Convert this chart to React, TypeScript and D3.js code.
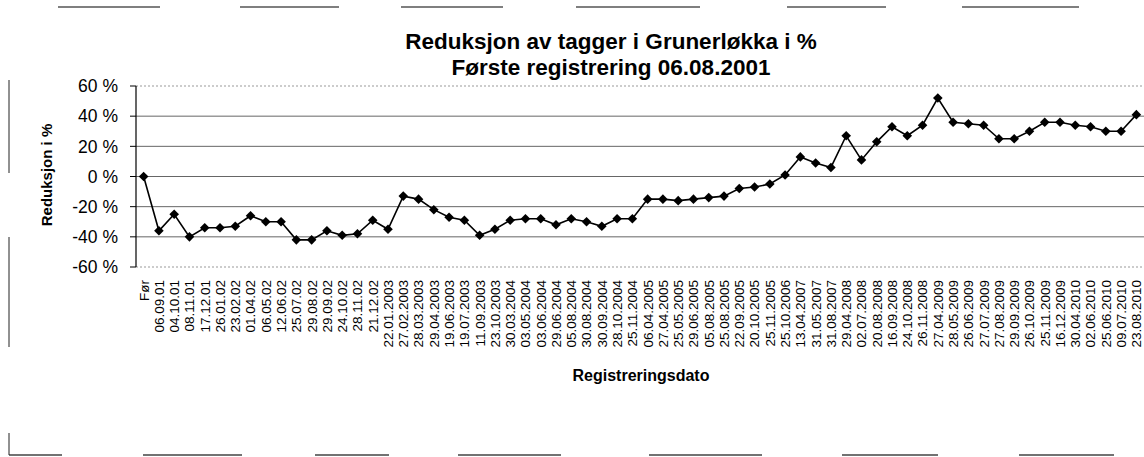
import * as d3 from 'd3'

const dates = [
  'Før', '06.09.01', '04.10.01', '08.11.01', '17.12.01', '26.01.02', '23.02.02', '01.04.02',
  '06.05.02', '12.06.02', '25.07.02', '29.08.02', '29.09.02', '24.10.02', '28.11.02', '21.12.02',
  '22.01.2003', '27.02.2003', '28.03.2003', '29.04.2003', '19.06.2003', '19.07.2003', '11.09.2003',
  '23.10.2003', '30.03.2004', '03.05.2004', '03.06.2004', '29.06.2004', '05.08.2004', '30.08.2004',
  '30.09.2004', '28.10.2004', '25.11.2004', '06.04.2005', '27.04.2005', '25.05.2005', '29.06.2005',
  '05.08.2005', '25.08.2005', '22.09.2005', '20.10.2005', '25.11.2005', '25.10.2006', '13.04.2007',
  '31.05.2007', '31.08.2007', '29.04.2008', '02.07.2008', '20.08.2008', '16.09.2008', '24.10.2008',
  '26.11.2008', '27.04.2009', '28.05.2009', '26.06.2009', '27.07.2009', '27.08.2009', '29.09.2009',
  '26.10.2009', '25.11.2009', '16.12.2009', '30.04.2010', '02.06.2010', '25.06.2010', '09.07.2010',
  '23.08.2010',
]

// reduksjon i %
const reduction = [
  0, -36, -25, -40, -34, -34, -33, -26, -30, -30, -42, -42, -36, -39, -38, -29,
  -35, -13, -15, -22, -27, -29, -39, -35, -29, -28, -28, -32, -28, -30, -33, -28,
  -28, -15, -15, -16, -15, -14, -13, -8, -7, -5, 1, 13, 9, 6, 27, 11,
  23, 33, 27, 34, 52, 36, 35, 34, 25, 25, 30, 36, 36, 34, 33, 30,
  30, 41,
]

const yTicks = [60, 40, 20, 0, -20, -40, -60]

const W = 1144
const H = 457
const FONT = '"Liberation Sans", Arial, sans-serif'

export default function App() {
  // plot area runs a little past the right edge of the picture (the scan is cropped)
  const x = d3.scalePoint<string>().domain(dates).range([136, 1144]).padding(0.5)
  const y = d3.scaleLinear().domain([-60, 60]).range([267, 86])

  const line = d3.line<number>()
    .x((_, i) => x(dates[i]) as number)
    .y(d => y(d))

  const marker = d3.symbol().type(d3.symbolSquare).size(46)()

  return (
    <div>
      <style>{'body{margin:0;overflow:hidden;background:#fff}'}</style>
      <svg width={W} height={H} style={{ display: 'block' }} fontFamily={FONT}>
        <rect width={W} height={H} fill="#fff" />

        {/* frame, only partly visible in the scan */}
        <line x1={58} x2={1144} y1={7} y2={7} stroke="#555" strokeWidth={1.6}
          strokeDasharray="102 80 99 62 102 73 124 87 99 76 117 400" />
        <line x1={9} x2={1144} y1={455} y2={455} stroke="#444" strokeWidth={1.6}
          strokeDasharray="53 81 99 73 74 69 103 88 113 80 96 81 95 200" />
        <line x1={9} x2={9} y1={80} y2={455} stroke="#222" strokeWidth={1}
          strokeDasharray="93 64 110 86 22" />

        {/* gridlines */}
        {yTicks.map(t => (
          <line key={t} x1={136} x2={1144} y1={y(t)} y2={y(t)}
            stroke={Math.abs(t) === 60 ? '#999' : '#666'}
            strokeWidth={1}
            strokeDasharray={Math.abs(t) === 60 ? '2 2' : undefined} />
        ))}

        {/* y axis */}
        <line x1={136} x2={136} y1={y(60)} y2={y(-60)} stroke="#000" strokeWidth={1.2} />
        {yTicks.map(t => (
          <g key={t}>
            <line x1={130} x2={136} y1={y(t)} y2={y(t)} stroke="#000" />
            <text x={118} y={y(t)} dy="0.36em" textAnchor="end" fontSize={17.5} fill="#000">
              {`${t} %`}
            </text>
          </g>
        ))}
        <text transform="translate(52,175) rotate(-90)" textAnchor="middle" fontSize={15}
          fontWeight="bold">Reduksjon i %</text>

        {/* x labels */}
        {dates.map(d => (
          <text key={d} transform={`translate(${x(d)},280) rotate(-90)`} dy="0.36em"
            textAnchor="end" fontSize={13.5} fill="#000">{d}</text>
        ))}
        <text x={641} y={381} textAnchor="middle" fontSize={16} fontWeight="bold">
          Registreringsdato
        </text>

        {/* series */}
        <path d={line(reduction) ?? ''} fill="none" stroke="#000" strokeWidth={1.6} />
        {reduction.map((v, i) => (
          <path key={i} d={marker ?? ''} fill="#000"
            transform={`translate(${x(dates[i])},${y(v)}) rotate(45)`} />
        ))}

        {/* title */}
        <text x={611} y={49} textAnchor="middle" fontSize={22.5} fontWeight="bold">
          Reduksjon av tagger i Grunerløkka i %
        </text>
        <text x={611} y={75} textAnchor="middle" fontSize={22.5} fontWeight="bold">
          Første registrering 06.08.2001
        </text>
      </svg>
    </div>
  )
}
